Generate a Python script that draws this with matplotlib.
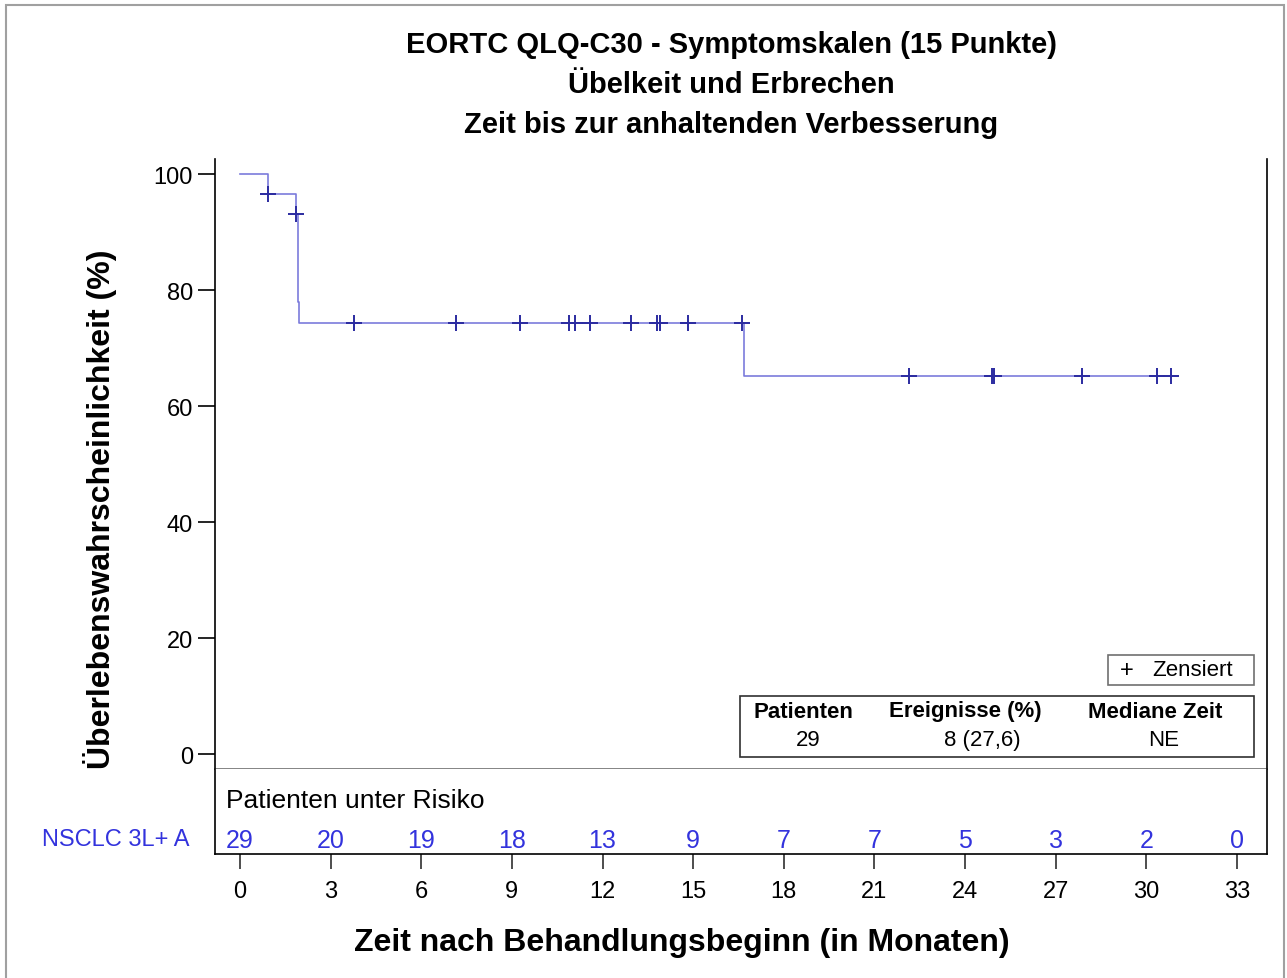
import matplotlib.pyplot as plt
import matplotlib.patches as mpatches

# Kaplan-Meier step points (months, survival %)
step_times = [0, 0.93, 1.85, 1.92, 1.95, 16.68, 31.0]
step_surv = [100, 96.6, 93.1, 78.0, 74.3, 65.2, 65.2]

# censored observations
cens_times = [0.93, 1.85, 3.77, 7.15, 9.27, 10.89, 11.09, 11.59, 12.95, 13.81, 13.91,
              14.83, 16.62, 22.15, 24.9, 24.97, 27.88, 30.36, 30.83]
cens_surv = [96.6, 93.1, 74.3, 74.3, 74.3, 74.3, 74.3, 74.3, 74.3, 74.3, 74.3,
             74.3, 74.3, 65.2, 65.2, 65.2, 65.2, 65.2, 65.2]

risk_times = [0, 3, 6, 9, 12, 15, 18, 21, 24, 27, 30, 33]
risk_counts = [29, 20, 19, 18, 13, 9, 7, 7, 5, 3, 2, 0]

title_lines = ['EORTC QLQ-C30 - Symptomskalen (15 Punkte)',
               'Übelkeit und Erbrechen',
               'Zeit bis zur anhaltenden Verbesserung']
table_head = ['Patienten', 'Ereignisse (%)', 'Mediane Zeit']
table_vals = ['29', '8 (27,6)', 'NE']

W, H = 1287, 979
LINE = '#7b7bdc'
MARK = '#2b2ba0'
BLUE = '#3333dd'

plt.rcParams['font.family'] = ['Liberation Sans', 'DejaVu Sans']

fig = plt.figure(figsize=(W / 100, H / 100), dpi=100)


def fx(px):
    return px / W


def fy(py):
    return 1 - py / H


def box(x0, y0, x1, y1):
    return [fx(x0), fy(y1), fx(x1) - fx(x0), fy(y0) - fy(y1)]


# outer frame
fig.patches.append(mpatches.Rectangle((fx(6), fy(990)), fx(1284) - fx(6), fy(6) - fy(990),
                                      transform=fig.transFigure, fill=False,
                                      edgecolor='#a0a0a0', linewidth=1.5))

# main plot
ax = fig.add_axes(box(215, 160, 1267, 770))
xmin = -25 / 30.21
xmax = 33 + 30 / 30.21
ax.set_xlim(xmin, xmax)
ax.set_ylim(-15 / 5.8, 100 + 15 / 5.8)
ax.step(step_times, step_surv, where='post', color=LINE, linewidth=1.2)
ax.plot(cens_times, cens_surv, linestyle='none', marker='+', markersize=11,
        markeredgewidth=1.4, color=MARK)
ax.spines['top'].set_visible(False)
ax.spines['bottom'].set_color('#707070')
ax.spines['bottom'].set_linewidth(1.2)
ax.spines['left'].set_linewidth(1.2)
ax.spines['right'].set_linewidth(1.2)
ax.set_xticks([])
ax.set_yticks([0, 20, 40, 60, 80, 100])
ax.tick_params(axis='y', length=12, width=1.2, labelsize=17, pad=4)
fig.text(fx(100), fy(509), 'Überlebenswahrscheinlichkeit (%)', fontsize=23,
         fontweight='bold', rotation=90, ha='center', va='center')

# risk table
rax = fig.add_axes(box(215, 770, 1267, 855))
rax.set_xlim(xmin, xmax)
rax.set_ylim(0, 1)
rax.spines['top'].set_visible(False)
for s in ['left', 'right', 'bottom']:
    rax.spines[s].set_linewidth(1.2)
rax.set_yticks([])
rax.set_xticks(risk_times)
rax.tick_params(axis='x', length=11, width=1.2, labelsize=17, pad=8, color='#303030')
rax.text(-0.45, 0.64, 'Patienten unter Risiko', fontsize=19, va='center', ha='left')
for t, n in zip(risk_times, risk_counts):
    rax.text(t, 0.17, str(n), fontsize=18, color=BLUE, ha='center', va='center')
fig.text(fx(190), fy(840), 'NSCLC 3L+ A', fontsize=17, color=BLUE, ha='right', va='center')
fig.text(fx(682), fy(943), 'Zeit nach Behandlungsbeginn (in Monaten)', fontsize=23,
         fontweight='bold', ha='center', va='center')

# title
for i, line in enumerate(title_lines):
    fig.text(fx(731), fy(45 + 40 * i), line, fontsize=21, fontweight='bold',
             ha='center', va='center')

# legend box
fig.patches.append(mpatches.Rectangle((fx(1108), fy(686)), fx(1254) - fx(1108), fy(656) - fy(686),
                                      transform=fig.transFigure, fill=False,
                                      edgecolor='#707070', linewidth=1.2))
fig.text(fx(1127), fy(671), '+', fontsize=17, ha='center', va='center')
fig.text(fx(1152), fy(671), 'Zensiert', fontsize=16, ha='left', va='center')

# summary table box
fig.patches.append(mpatches.Rectangle((fx(740), fy(758)), fx(1254) - fx(740), fy(697) - fy(758),
                                      transform=fig.transFigure, fill=False,
                                      edgecolor='#303030', linewidth=1.2))
for cx, head in zip([803, 965, 1155], table_head):
    fig.text(fx(cx), fy(712), head, fontsize=16, fontweight='bold', ha='center', va='center')
for cx, val in zip([808, 982, 1164], table_vals):
    fig.text(fx(cx), fy(741), val, fontsize=16, ha='center', va='center')

fig.savefig('out.png', dpi=100)
